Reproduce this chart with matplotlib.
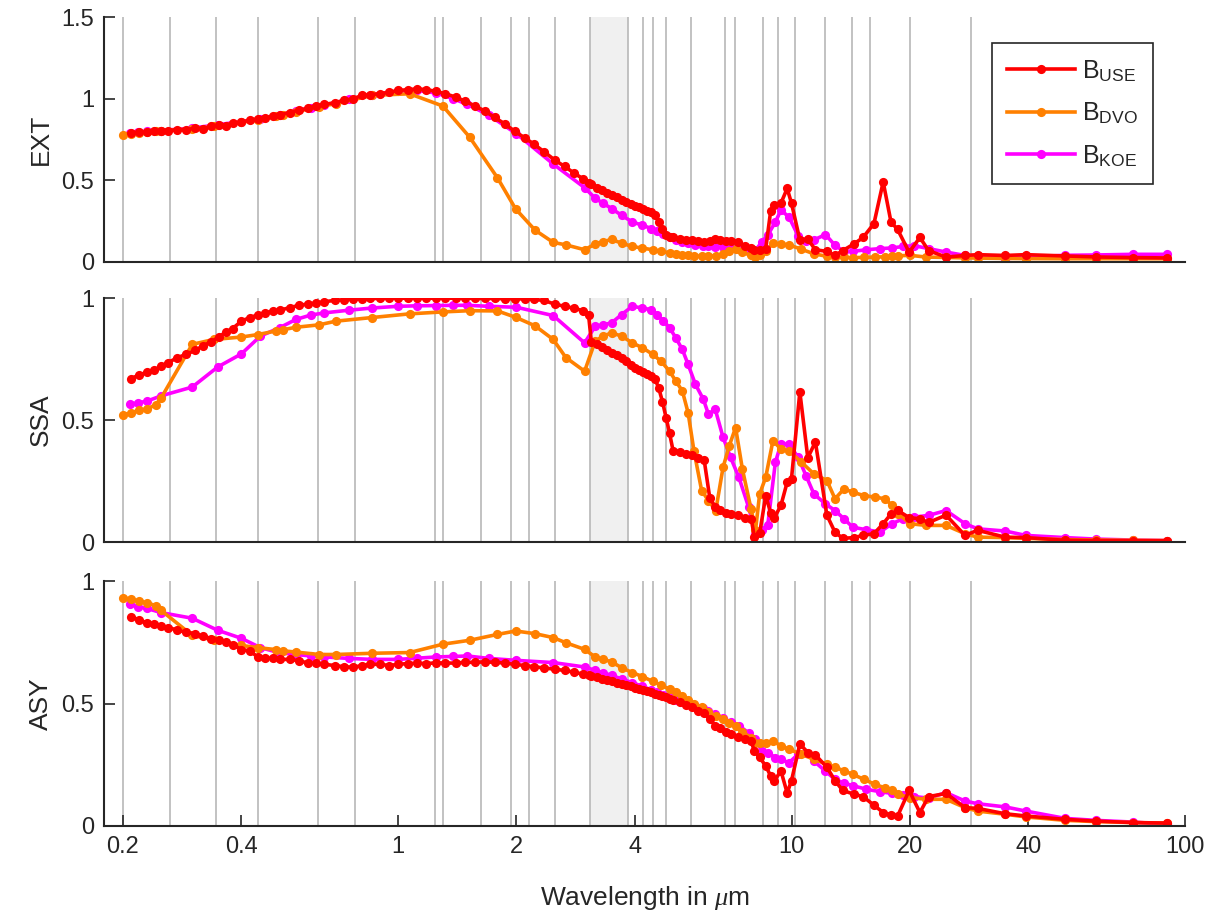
import matplotlib
matplotlib.use('Agg')
import matplotlib.pyplot as plt
from matplotlib.ticker import NullLocator, FixedLocator, FixedFormatter

plt.rcParams['font.family'] = ['Liberation Sans', 'DejaVu Sans']
plt.rcParams['mathtext.fontset'] = 'custom'
plt.rcParams['mathtext.rm'] = 'Liberation Sans'
plt.rcParams['mathtext.it'] = 'Liberation Serif:italic'

# ---------------- data ----------------
band_edges = [0.2, 0.263, 0.345, 0.442, 0.625, 0.778, 1.242, 1.299, 1.626, 1.942,
              2.151, 2.5, 3.077, 3.846, 4.202, 4.444, 4.808, 5.556, 6.757, 7.194,
              8.475, 9.259, 10.204, 12.195, 14.286, 15.873, 20.0, 28.571]
overlap = [3.077, 3.846]

use_wl = [0.21, 0.22, 0.23, 0.24, 0.25, 0.26, 0.275, 0.29, 0.305, 0.32, 0.335, 0.35, 0.365, 0.38,
          0.40, 0.42, 0.44, 0.46, 0.48, 0.50, 0.53, 0.56, 0.59, 0.62, 0.65, 0.69, 0.73, 0.77, 0.81,
          0.85, 0.90, 0.95, 1.0, 1.06, 1.12, 1.18, 1.25, 1.32, 1.40, 1.48, 1.57, 1.66, 1.76, 1.87,
          1.98, 2.10, 2.22, 2.35, 2.5, 2.65, 2.8, 2.95, 3.05,
          3.1, 3.2, 3.3, 3.4, 3.5, 3.6, 3.7, 3.8, 3.9, 4.0, 4.1, 4.2, 4.3, 4.4, 4.5, 4.6, 4.7, 4.8,
          4.9, 5.0, 5.2, 5.4, 5.6, 5.8, 6.0, 6.2, 6.4, 6.6, 6.8, 7.0, 7.3, 7.6, 7.9, 8.05, 8.3, 8.6,
          8.85, 9.05, 9.4, 9.75, 10.0, 10.5, 11.0, 11.5, 12.3, 12.9, 13.5, 14.4, 15.2, 16.2, 17.1,
          17.9, 18.6, 19.9, 21.2, 22.3, 24.7, 27.6, 29.7, 34.9, 39.4, 49.6, 59.3, 73.8, 89.8]
use_ext = [0.79, 0.795, 0.795, 0.80, 0.805, 0.805, 0.81, 0.81, 0.82, 0.815, 0.83, 0.84, 0.835, 0.85,
           0.855, 0.87, 0.875, 0.88, 0.895, 0.90, 0.915, 0.93, 0.94, 0.955, 0.965, 0.975, 0.99, 1.0,
           1.02, 1.025, 1.03, 1.04, 1.05, 1.055, 1.06, 1.055, 1.045, 1.03, 1.01, 0.985, 0.955, 0.925,
           0.885, 0.845, 0.80, 0.76, 0.72, 0.675, 0.625, 0.585, 0.545, 0.51, 0.485,
           0.475, 0.455, 0.44, 0.425, 0.41, 0.395, 0.38, 0.365, 0.355, 0.345, 0.335, 0.325, 0.315,
           0.305, 0.285, 0.245, 0.20, 0.165, 0.155, 0.15, 0.14, 0.135, 0.135, 0.13, 0.125, 0.13,
           0.14, 0.135, 0.13, 0.13, 0.125, 0.10, 0.085, 0.075, 0.072, 0.082, 0.31, 0.35, 0.36, 0.45,
           0.36, 0.135, 0.14, 0.075, 0.065, 0.04, 0.07, 0.11, 0.15, 0.235, 0.49, 0.245, 0.20, 0.06,
           0.15, 0.07, 0.03, 0.04, 0.045, 0.04, 0.045, 0.037, 0.031, 0.027, 0.025]
use_ssa = [0.67, 0.685, 0.695, 0.705, 0.72, 0.735, 0.755, 0.77, 0.785, 0.805, 0.82, 0.84, 0.86, 0.875,
           0.905, 0.92, 0.93, 0.94, 0.945, 0.95, 0.96, 0.97, 0.975, 0.98, 0.985, 0.99, 0.993, 0.995,
           0.997, 0.998, 0.998, 0.999, 0.999, 0.999, 0.999, 0.999, 0.999, 0.999, 0.999, 0.999, 0.998,
           0.998, 0.998, 0.997, 0.997, 0.996, 0.994, 0.99, 0.975, 0.966, 0.958, 0.948, 0.93,
           0.82, 0.81, 0.80, 0.785, 0.775, 0.765, 0.755, 0.74, 0.725, 0.715, 0.705, 0.695, 0.688,
           0.68, 0.668, 0.63, 0.575, 0.51, 0.445, 0.375, 0.37, 0.36, 0.355, 0.345, 0.335, 0.18,
           0.145, 0.13, 0.12, 0.115, 0.11, 0.10, 0.095, 0.02, 0.035, 0.19, 0.12, 0.10, 0.15, 0.245,
           0.26, 0.615, 0.345, 0.41, 0.11, 0.04, 0.015, 0.018, 0.027, 0.034, 0.075, 0.115, 0.13,
           0.10, 0.095, 0.08, 0.11, 0.027, 0.048, 0.02, 0.018, 0.007, 0.006, 0.005, 0.005]
use_asy = [0.855, 0.84, 0.83, 0.825, 0.815, 0.81, 0.80, 0.79, 0.785, 0.775, 0.765, 0.76, 0.75, 0.74,
           0.72, 0.715, 0.69, 0.685, 0.685, 0.68, 0.68, 0.675, 0.665, 0.665, 0.66, 0.655, 0.65, 0.648,
           0.655, 0.66, 0.66, 0.655, 0.66, 0.663, 0.665, 0.663, 0.666, 0.665, 0.665, 0.668, 0.668,
           0.67, 0.668, 0.665, 0.66, 0.655, 0.65, 0.645, 0.64, 0.635, 0.628, 0.62, 0.615,
           0.612, 0.607, 0.60, 0.595, 0.59, 0.585, 0.58, 0.575, 0.57, 0.565, 0.56, 0.555, 0.55,
           0.545, 0.54, 0.535, 0.53, 0.525, 0.52, 0.515, 0.505, 0.495, 0.485, 0.47, 0.46, 0.435,
           0.41, 0.40, 0.385, 0.375, 0.365, 0.355, 0.345, 0.305, 0.28, 0.245, 0.205, 0.185, 0.225,
           0.135, 0.185, 0.335, 0.30, 0.29, 0.24, 0.185, 0.145, 0.13, 0.12, 0.085, 0.055, 0.045,
           0.04, 0.145, 0.055, 0.12, 0.133, 0.075, 0.072, 0.05, 0.041, 0.027, 0.02, 0.014, 0.012]

dvo_wl = [0.2, 0.21, 0.22, 0.23, 0.242, 0.25, 0.30, 0.34, 0.40, 0.44, 0.49, 0.51, 0.55, 0.63, 0.695,
          0.86, 1.07, 1.30, 1.52, 1.79, 1.99, 2.23, 2.48, 2.67, 2.98,
          3.17, 3.32, 3.49, 3.7, 3.94, 4.18, 4.44, 4.66, 4.9, 5.08, 5.28, 5.46, 5.65, 5.91, 6.15,
          6.42, 6.7, 6.95, 7.21, 7.5, 7.89, 8.1, 8.3, 8.6, 8.97, 9.4, 9.85, 10.6, 11.4, 12.3, 12.9,
          13.6, 14.3, 15.3, 16.3, 17.3, 18.0, 18.7, 20.0, 22.0, 24.7, 27.6, 29.7, 34.9, 39.4, 49.6,
          59.3, 73.8, 89.8]
dvo_ext = [0.78, 0.785, 0.79, 0.795, 0.80, 0.805, 0.815, 0.83, 0.855, 0.87, 0.895, 0.90, 0.92, 0.95,
           0.97, 1.02, 1.03, 0.955, 0.765, 0.515, 0.325, 0.195, 0.12, 0.105, 0.075,
           0.11, 0.125, 0.138, 0.115, 0.095, 0.085, 0.075, 0.065, 0.057, 0.05, 0.045, 0.04, 0.037,
           0.035, 0.035, 0.038, 0.05, 0.065, 0.078, 0.06, 0.04, 0.028, 0.045, 0.065, 0.115, 0.11,
           0.105, 0.078, 0.05, 0.035, 0.03, 0.028, 0.027, 0.028, 0.03, 0.032, 0.035, 0.038, 0.041,
           0.03, 0.028, 0.025, 0.024, 0.022, 0.021, 0.02, 0.02, 0.02, 0.02]
dvo_ssa = [0.52, 0.53, 0.54, 0.545, 0.562, 0.59, 0.81, 0.83, 0.84, 0.85, 0.865, 0.87, 0.88, 0.89,
           0.905, 0.92, 0.935, 0.943, 0.948, 0.947, 0.921, 0.886, 0.83, 0.756, 0.70,
           0.823, 0.844, 0.857, 0.844, 0.816, 0.796, 0.769, 0.741, 0.70, 0.66, 0.619, 0.53, 0.374,
           0.211, 0.17, 0.129, 0.306, 0.395, 0.469, 0.30, 0.136, 0.048, 0.197, 0.265, 0.415, 0.381,
           0.374, 0.327, 0.279, 0.252, 0.177, 0.218, 0.204, 0.19, 0.184, 0.177, 0.15, 0.116, 0.075,
           0.068, 0.068, 0.034, 0.02, 0.018, 0.015, 0.01, 0.008, 0.007, 0.006]
dvo_asy = [0.932, 0.925, 0.918, 0.911, 0.90, 0.88, 0.778, 0.76, 0.737, 0.728, 0.72, 0.715, 0.71, 0.70,
           0.70, 0.705, 0.708, 0.742, 0.758, 0.782, 0.796, 0.785, 0.769, 0.748, 0.721,
           0.69, 0.68, 0.67, 0.646, 0.626, 0.61, 0.59, 0.575, 0.558, 0.545, 0.531, 0.515, 0.50,
           0.485, 0.465, 0.449, 0.435, 0.42, 0.408, 0.385, 0.36, 0.34, 0.34, 0.34, 0.347, 0.327,
           0.313, 0.293, 0.272, 0.252, 0.24, 0.225, 0.211, 0.19, 0.17, 0.155, 0.145, 0.129, 0.116,
           0.109, 0.109, 0.075, 0.061, 0.048, 0.037, 0.023, 0.018, 0.014, 0.012]

koe_wl = [0.209, 0.219, 0.23, 0.25, 0.30, 0.348, 0.40, 0.447, 0.50, 0.55, 0.60, 0.65, 0.75, 0.86,
          1.0, 1.12, 1.25, 1.38, 1.5, 1.7, 2.0, 2.48, 2.98,
          3.17, 3.32, 3.49, 3.7, 3.94, 4.18, 4.4, 4.55, 4.72, 4.9, 5.08, 5.28, 5.46, 5.7, 5.97,
          6.15, 6.4, 6.7, 7.0, 7.35, 7.78, 8.1, 8.4, 8.7, 9.1, 9.4, 9.85, 10.4, 10.9, 11.4, 12.2,
          12.9, 13.6, 14.3, 15.5, 16.8, 18.0, 19.2, 20.5, 22.3, 24.7, 27.6, 29.7, 34.9, 39.4, 49.6,
          59.3, 73.8, 89.8]
koe_ext = [0.79, 0.795, 0.80, 0.805, 0.82, 0.84, 0.86, 0.875, 0.90, 0.925, 0.945, 0.96, 0.995, 1.025,
           1.045, 1.05, 1.035, 1.0, 0.965, 0.90, 0.785, 0.60, 0.455,
           0.39, 0.36, 0.327, 0.286, 0.245, 0.225, 0.205, 0.19, 0.17, 0.155, 0.135, 0.125, 0.115,
           0.105, 0.10, 0.095, 0.09, 0.09, 0.085, 0.08, 0.07, 0.07, 0.123, 0.164, 0.245, 0.317,
           0.276, 0.16, 0.127, 0.135, 0.168, 0.102, 0.065, 0.065, 0.075, 0.082, 0.086, 0.095, 0.10,
           0.082, 0.061, 0.04, 0.037, 0.02, 0.03, 0.041, 0.043, 0.047, 0.047]
koe_ssa = [0.565, 0.571, 0.577, 0.599, 0.635, 0.717, 0.771, 0.844, 0.878, 0.912, 0.93, 0.939, 0.95,
           0.959, 0.966, 0.968, 0.969, 0.97, 0.97, 0.966, 0.962, 0.928, 0.816,
           0.884, 0.89, 0.898, 0.932, 0.966, 0.959, 0.952, 0.932, 0.907, 0.878, 0.837, 0.789, 0.728,
           0.646, 0.585, 0.524, 0.544, 0.429, 0.347, 0.265, 0.143, 0.034, 0.05, 0.068, 0.327, 0.401,
           0.401, 0.347, 0.27, 0.197, 0.156, 0.129, 0.095, 0.061, 0.05, 0.041, 0.075, 0.095, 0.102,
           0.109, 0.129, 0.075, 0.054, 0.045, 0.027, 0.018, 0.012, 0.008, 0.006]
koe_asy = [0.905, 0.894, 0.888, 0.871, 0.848, 0.799, 0.766, 0.728, 0.707, 0.70, 0.694, 0.69, 0.684,
           0.68, 0.68, 0.685, 0.69, 0.692, 0.694, 0.684, 0.676, 0.667, 0.649,
           0.635, 0.625, 0.615, 0.60, 0.585, 0.57, 0.555, 0.545, 0.535, 0.525, 0.515, 0.505, 0.497,
           0.49, 0.483, 0.47, 0.456, 0.44, 0.425, 0.41, 0.38, 0.355, 0.306, 0.30, 0.279, 0.272,
           0.258, 0.293, 0.299, 0.265, 0.224, 0.19, 0.175, 0.165, 0.15, 0.14, 0.133, 0.126, 0.12,
           0.114, 0.136, 0.102, 0.091, 0.078, 0.061, 0.031, 0.023, 0.016, 0.007]

panel_labels = ['EXT', 'SSA', 'ASY']
panel_ylims = [(0, 1.5), (0, 1), (0, 1)]
panel_yticks = [[0, 0.5, 1, 1.5], [0, 0.5, 1], [0, 0.5, 1]]
panel_yticklabels = [['0', '0.5', '1', '1.5'], ['0', '0.5', '1'], ['0', '0.5', '1']]
xticks = [0.2, 0.4, 1, 2, 4, 10, 20, 40, 100]
xticklabels = ['0.2', '0.4', '1', '2', '4', '10', '20', '40', '100']
series_names = [r'B$_{\mathrm{USE}}$', r'B$_{\mathrm{DVO}}$', r'B$_{\mathrm{KOE}}$']

# ---------------- plotting ----------------
W, H = 1221, 921
fig = plt.figure(figsize=(W / 100, H / 100), dpi=100)
ax_left, ax_right = 104, 1185
panel_px = [(17, 262), (298, 542), (581, 826)]
txt = '#262626'
fs = 17
LW, MS = 2.6, 6.6

c_use, c_dvo, c_koe = '#ff0000', '#ff8000', '#ff00ff'
data = [
    (use_ext, dvo_ext, koe_ext),
    (use_ssa, dvo_ssa, koe_ssa),
    (use_asy, dvo_asy, koe_asy),
]

axes = []
for i, (top, bot) in enumerate(panel_px):
    ax = fig.add_axes([ax_left / W, 1 - bot / H, (ax_right - ax_left) / W, (bot - top) / H])
    axes.append(ax)
    ax.set_xscale('log')
    ax.set_xlim(0.179, 100)
    ax.set_ylim(*panel_ylims[i])
    ax.axvspan(overlap[0], overlap[1], color='#f0f0f0', lw=0, zorder=0)
    for e in band_edges:
        ax.axvline(e, color='#bdbdbd', lw=1.3, zorder=1)
    u, d, k = data[i]
    lk, = ax.plot(koe_wl, k, '-o', color=c_koe, lw=LW, ms=MS, mew=0, zorder=3)
    ld, = ax.plot(dvo_wl, d, '-o', color=c_dvo, lw=LW, ms=MS, mew=0, zorder=4)
    lu, = ax.plot(use_wl, u, '-o', color=c_use, lw=LW, ms=MS, mew=0, zorder=5)
    for s in ['top', 'right']:
        ax.spines[s].set_visible(False)
    for s in ['left', 'bottom']:
        ax.spines[s].set_color(txt)
        ax.spines[s].set_linewidth(1.5)
        ax.spines[s].set_zorder(6)
    ax.yaxis.set_major_locator(FixedLocator(panel_yticks[i]))
    ax.yaxis.set_major_formatter(FixedFormatter(panel_yticklabels[i]))
    ax.xaxis.set_minor_locator(NullLocator())
    ax.yaxis.set_minor_locator(NullLocator())
    ax.tick_params(axis='both', direction='in', length=8, width=1.2, colors=txt,
                   labelsize=fs, labelcolor=txt, pad=7)
    if i < 2:
        ax.set_xticks([])
    else:
        ax.xaxis.set_major_locator(FixedLocator(xticks))
        ax.xaxis.set_major_formatter(FixedFormatter(xticklabels))
    ax.set_ylabel(panel_labels[i], fontsize=fs + 2, color=txt)
    ax.yaxis.set_label_coords(-0.047, 0.5)
    ax.patch.set_alpha(0)
    if i == 0:
        handles = [lu, ld, lk]

leg = axes[0].legend(handles, series_names, loc='upper right',
                     bbox_to_anchor=((1153 - 104) / 1081, (262 - 43) / 245),
                     borderaxespad=0, fontsize=fs + 1, handlelength=2.7, handletextpad=0.3,
                     labelspacing=0.68, borderpad=0.6, fancybox=False, framealpha=1)
leg.get_frame().set_edgecolor(txt)
leg.get_frame().set_linewidth(1.2)
for t in leg.get_texts():
    t.set_color(txt)

fig.text(644.5 / W, 1 - 898 / H, r'Wavelength in $\mu$m', ha='center', va='center',
         fontsize=fs + 2, color=txt)

fig.savefig('out.png', dpi=100)
